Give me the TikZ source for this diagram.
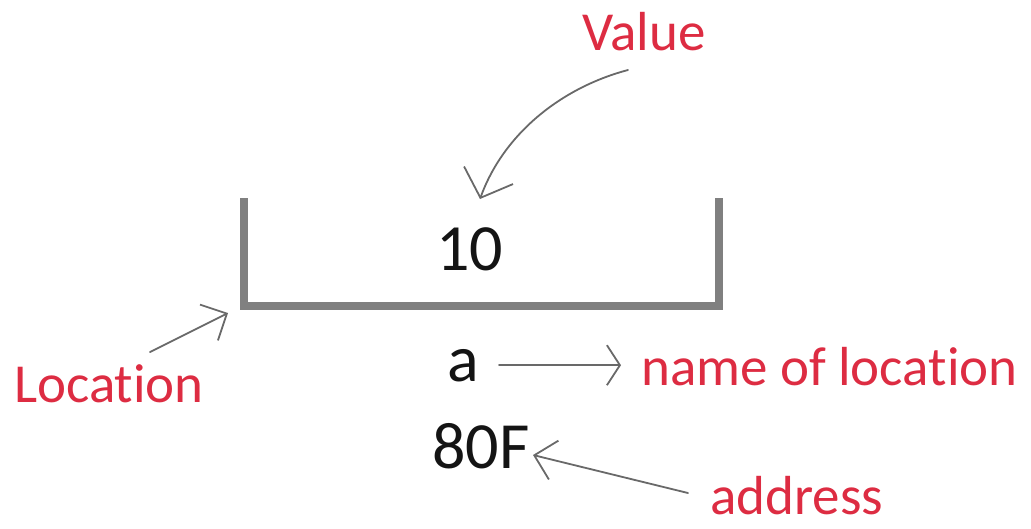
\documentclass[tikz,border=0pt]{standalone}
\usepackage{fontspec}
\setmainfont{Carlito}[Ligatures=NoCommon]
\usetikzlibrary{arrows.meta}
\definecolor{labelred}{RGB}{221,44,66}
\definecolor{ink}{RGB}{20,20,20}
\definecolor{wall}{RGB}{128,128,128}
\definecolor{pen}{RGB}{105,105,105}
\tikzset{
  redlabel/.style={text=labelred, font=\fontsize{55}{60}\selectfont, inner sep=0pt, anchor=base west},
  blacktext/.style={text=ink, font=\fontsize{66}{72}\selectfont, inner sep=0pt, anchor=base west},
  conn/.style={draw=pen, line width=1.8pt, line cap=round, line join=round},
  bigbarb/.style={-{Straight Barb[length=24pt,width=52pt,line width=1.8pt]}},
  midbarb/.style={-{Straight Barb[length=20pt,width=40pt,line width=1.8pt]}},
  smallbarb/.style={-{Straight Barb[length=13pt,width=40pt,line width=1.8pt]}}
}
\begin{document}
\begin{tikzpicture}[x=1pt,y=-1pt]
  \useasboundingbox (0,0) rectangle (1031,528);

  % the storage cell
  \draw[wall, line width=7.5pt, line join=miter] (244,198) -- (244,306) -- (719,306) -- (719,198);

  % texts
  \node[blacktext] (ten) at (436,270) {10};
  \node[blacktext] (aname) at (447,381) {a};
  \node[blacktext] (eighty) at (432,468) {80F};

  \node[redlabel] (value) at (582,50) {Value};
  \node[redlabel] (loc) at (14,402) {Location};
  \node[redlabel] (nameloc) at (641,385) {name of location};
  \node[redlabel] (addr) at (710,514) {address};

  % connector end points
  \coordinate (valtail) at (628,70);
  \coordinate (valtip) at (480,199);
  \coordinate (loctail) at (150,352);
  \coordinate (loctip) at (228,313);
  \coordinate (addrtail) at (688,493);
  \coordinate (addrtip) at (533,455);

  % connectors
  \draw[conn, bigbarb] (valtail) .. controls (560,88) and (503,135) .. (valtip);
  \draw[conn, midbarb] (loctail) -- (loctip);
  \draw[conn, smallbarb, shorten <=20pt, shorten >=20pt] (aname.east) -- (aname.east -| nameloc.west);
  \draw[conn, midbarb] (addrtail) -- (addrtip);
\end{tikzpicture}
\end{document}
